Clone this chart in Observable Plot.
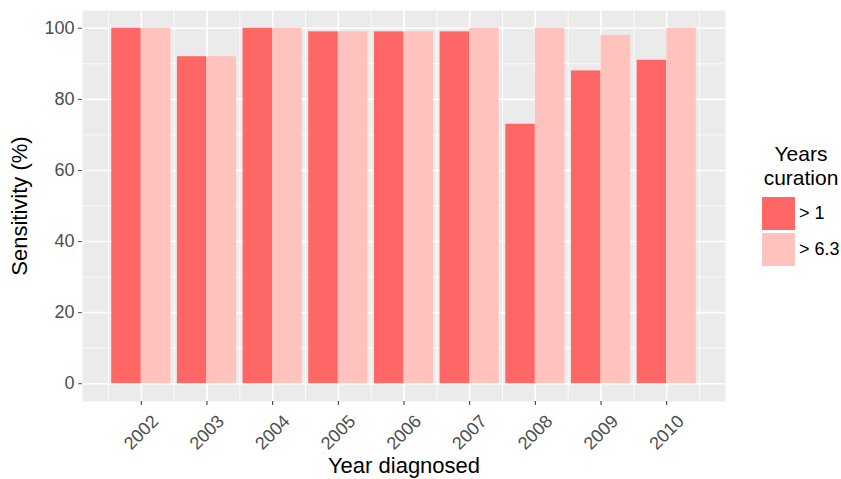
<!DOCTYPE html>
<html>
<head>
<meta charset="utf-8">
<script src="https://cdn.jsdelivr.net/npm/d3@7"></script>
<script src="https://cdn.jsdelivr.net/npm/@observablehq/plot@0.6"></script>
<style>
  html, body { margin: 0; padding: 0; background: #fff; }
  #wrap { position: relative; width: 841px; height: 479px; font-family: "Liberation Sans", Arial, Helvetica, sans-serif; }
  #legend { position: absolute; left: 756px; top: 142px; color: #000; }
  #legend .title { font-size: 21px; line-height: 24px; text-align: center; width: 90px; }
  #legend .row { display: flex; align-items: center; height: 35.5px; margin-left: 6px; }
  #legend .key { width: 33px; height: 33px; margin-right: 4px; }
  #legend .lab { font-size: 18px; }
  #legend .rows { margin-top: 6px; }
</style>
</head>
<body>
<div id="wrap"></div>
<script>
const years = [2002, 2003, 2004, 2005, 2006, 2007, 2008, 2009, 2010];
const sensitivityOver1 = [100, 92, 100, 99, 99, 99, 73, 88, 91];
const sensitivityOver63 = [100, 92, 100, 99, 99, 100, 100, 98, 100];
const groups = ["> 1", "> 6.3"];
const groupColors = ["#FF6666", "#FFC2BD"];
const yTicks = [0, 20, 40, 60, 80, 100];
const yMinor = [10, 30, 50, 70, 90];
const xMinor = [2001.5, 2002.5, 2003.5, 2004.5, 2005.5, 2006.5, 2007.5, 2008.5, 2009.5, 2010.5];
const legendTitle = ["Years", "curation"];

const rows = [];
years.forEach((yr, i) => {
  rows.push({year: yr, group: groups[0], k: 0, value: sensitivityOver1[i]});
  rows.push({year: yr, group: groups[1], k: 1, value: sensitivityOver63[i]});
});

const bw = 0.45;
const font = "Liberation Sans, Arial, Helvetica, sans-serif";

const chart = Plot.plot({
  width: 841,
  height: 479,
  marginLeft: 82,
  marginRight: 116,
  marginTop: 10,
  marginBottom: 78,
  style: {fontFamily: font, background: "white"},
  x: {type: "linear", domain: [2002 - bw - 0.445, 2010 + bw + 0.445], axis: null},
  y: {domain: [-5, 105], axis: null},
  color: {domain: groups, range: groupColors},
  marks: [
    Plot.frame({fill: "#EBEBEB", stroke: null}),
    Plot.gridY(yMinor, {stroke: "white", strokeOpacity: 1, strokeWidth: 0.8}),
    Plot.gridX(xMinor, {stroke: "white", strokeOpacity: 1, strokeWidth: 0.8}),
    Plot.gridY(yTicks, {stroke: "white", strokeOpacity: 1, strokeWidth: 1.6}),
    Plot.gridX(years, {stroke: "white", strokeOpacity: 1, strokeWidth: 1.6}),
    Plot.rectY(rows, {
      x1: d => d.year - bw + d.k * bw,
      x2: d => d.year + d.k * bw,
      y1: 0,
      y2: "value",
      fill: "group"
    }),
    Plot.axisY(yTicks, {tickSize: 4, tickPadding: 4, fontSize: 18, color: "#4D4D4D", label: null, tickFormat: d => String(d)}),
    Plot.axisX(years, {tickSize: 4, color: "#333333", label: null, tickFormat: () => ""}),
    Plot.text(years, {
      x: d => d,
      text: d => String(d),
      frameAnchor: "bottom",
      dy: 31,
      rotate: -45,
      textAnchor: "middle",
      lineAnchor: "middle",
      fontSize: 18,
      fill: "#4D4D4D"
    }),
    Plot.text(["Year diagnosed"], {frameAnchor: "bottom", dy: 64, textAnchor: "middle", lineAnchor: "middle", fontSize: 22, fill: "black"}),
    Plot.text(["Sensitivity (%)"], {frameAnchor: "left", dx: -63, rotate: -90, textAnchor: "middle", lineAnchor: "middle", fontSize: 22, fill: "black"})
  ]
});

const wrap = document.getElementById("wrap");
wrap.appendChild(chart);

const legend = document.createElement("div");
legend.id = "legend";
const t = document.createElement("div");
t.className = "title";
t.innerHTML = legendTitle.join("<br>");
legend.appendChild(t);
const rs = document.createElement("div");
rs.className = "rows";
groups.forEach((g, i) => {
  const r = document.createElement("div");
  r.className = "row";
  const k = document.createElement("div");
  k.className = "key";
  k.style.background = groupColors[i];
  const l = document.createElement("span");
  l.className = "lab";
  l.textContent = g;
  r.appendChild(k);
  r.appendChild(l);
  rs.appendChild(r);
});
legend.appendChild(rs);
wrap.appendChild(legend);
</script>
</body>
</html>
